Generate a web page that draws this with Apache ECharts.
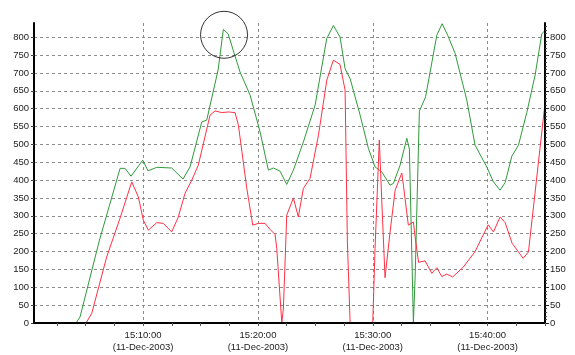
<!DOCTYPE html>
<html>
<head>
<meta charset="utf-8">
<script src="https://cdn.jsdelivr.net/npm/echarts@6/dist/echarts.min.js"></script>
<style>
    html, body { margin: 0; padding: 0; background: #fff; }
    #chart { width: 575px; height: 355px; }
</style>
</head>
<body>
<div id="chart"></div>
<script>
// time in minutes after 15:00:00
var greenTime = [4.16, 4.51, 6.2, 8.0, 8.43, 8.95, 9.97, 10.43, 11.19, 12.49, 13.48, 14.09, 15.11, 15.54, 16.53, 16.99, 17.40, 18.44, 19.32, 20.19, 20.91, 21.35, 21.93, 22.51, 23.09, 23.96, 24.98, 25.99, 26.57, 27.15, 27.59, 28.03, 28.90, 29.62, 30.20, 30.79, 31.51, 31.80, 32.38, 32.97, 33.19, 33.54, 33.69, 34.06, 34.60, 35.58, 36.04, 36.52, 37.17, 38.19, 38.91, 39.93, 40.51, 41.09, 41.53, 42.11, 42.69, 43.42, 44.14, 44.72, 45.0];
var greenValue = [0, 17, 232, 433, 433, 411, 456, 426, 436, 434, 403, 437, 563, 568, 708, 822, 810, 703, 638, 535, 428, 434, 425, 388, 428, 507, 610, 796, 833, 801, 712, 684, 582, 489, 437, 423, 386, 391, 442, 517, 487, 2, 129, 593, 633, 806, 838, 806, 755, 624, 498, 437, 395, 372, 393, 467, 498, 590, 694, 810, 819];

var redTime = [5.03, 5.53, 6.83, 7.99, 9.01, 9.59, 10.02, 10.46, 11.19, 11.76, 12.49, 13.07, 13.65, 14.24, 14.81, 15.83, 16.27, 16.85, 17.43, 18.01, 18.30, 19.03, 19.55, 20.04, 20.62, 21.06, 21.49, 21.64, 22.08, 22.22, 22.51, 23.09, 23.52, 23.96, 24.54, 25.27, 26.00, 26.57, 27.15, 27.59, 27.79, 28.03, 30.00, 30.20, 30.57, 30.79, 31.07, 31.51, 31.95, 32.53, 32.67, 33.10, 33.54, 33.69, 33.99, 34.56, 35.14, 35.58, 36.01, 36.45, 36.96, 37.90, 38.91, 40.05, 40.51, 41.09, 41.53, 42.14, 43.10, 43.56, 45.0];
var redValue = [0, 27, 185, 293, 395, 353, 288, 260, 281, 279, 255, 297, 363, 400, 442, 582, 594, 589, 591, 589, 554, 377, 274, 279, 279, 262, 248, 209, 0, 42, 302, 350, 297, 377, 405, 526, 680, 736, 724, 652, 227, 0, 0, 209, 512, 339, 127, 255, 372, 420, 386, 274, 283, 241, 170, 174, 139, 155, 130, 137, 129, 157, 200, 275, 255, 297, 281, 223, 181, 199, 615];

// ring drawn round the first peak
var ringPoint = [17.05, 807];

var yTicks = [0, 50, 100, 150, 200, 250, 300, 350, 400, 450, 500, 550, 600, 650, 700, 750, 800];
var xLabelMinutes = [10, 20, 30, 40];
var xMinorMinutes = [2.5, 5, 7.5, 10, 12.5, 15, 17.5, 20, 22.5, 25, 27.5, 30, 32.5, 35, 37.5, 40, 42.5, 45];
var dateText = '(11-Dec-2003)';

function pairs(xs, ys) {
    var out = [];
    for (var i = 0; i < xs.length; i++) out.push([xs[i], ys[i]]);
    return out;
}

var labelFont = { fontFamily: 'Liberation Sans, Arial, sans-serif', fontSize: 9.5, color: '#222' };
var dashed = { color: '#8c8c8c', type: [3, 3], width: 1 };

var myChart = echarts.init(document.getElementById('chart'));
myChart.setOption({
    animation: false,
    backgroundColor: '#fff',
    grid: { left: 34, right: 30, top: 23, bottom: 32 },
    xAxis: [
        {
            type: 'value',
            min: 0.5,
            max: 45,
            z: 10,
            axisLine: { show: true, onZero: false, lineStyle: { color: '#000', width: 2 } },
            axisTick: { show: true, customValues: xMinorMinutes, length: 3, lineStyle: { color: '#555' } },
            axisLabel: Object.assign({
                customValues: xLabelMinutes,
                margin: 6,
                lineHeight: 12.5,
                align: 'center',
                formatter: function (v) {
                    return '15:' + (v < 10 ? '0' + v : v) + ':00\n' + dateText;
                }
            }, labelFont),
            splitLine: { show: false }
        },
        {
            // only for the vertical dashed lines
            type: 'value',
            min: 0.5,
            max: 45,
            position: 'bottom',
            axisLine: { show: false },
            axisTick: { show: false, customValues: xLabelMinutes },
            axisLabel: { show: false },
            splitLine: { show: true, lineStyle: dashed }
        }
    ],
    yAxis: [
        {
            type: 'value',
            min: 0,
            max: 840,
            interval: 50,
            position: 'left',
            axisLine: { show: true, lineStyle: { color: '#000', width: 2 } },
            axisTick: { show: true, customValues: yTicks, length: 3, lineStyle: { color: '#444' } },
            axisLabel: Object.assign({ customValues: yTicks, margin: 5 }, labelFont),
            splitLine: { show: true, lineStyle: dashed }
        },
        {
            type: 'value',
            min: 0,
            max: 840,
            interval: 50,
            position: 'right',
            z: 10,
            axisLine: { show: true, lineStyle: { color: '#000', width: 2 } },
            axisTick: { show: true, customValues: yTicks, length: 4, lineStyle: { color: '#222' } },
            minorTick: { show: true, splitNumber: 5, length: 2, lineStyle: { color: '#444' } },
            axisLabel: Object.assign({ customValues: yTicks, margin: 5 }, labelFont),
            splitLine: { show: false }
        }
    ],
    series: [
        {
            name: 'green',
            type: 'line',
            data: pairs(greenTime, greenValue),
            showSymbol: false,
            lineStyle: { color: '#2f9a3a', width: 1 },
            z: 3
        },
        {
            name: 'red',
            type: 'line',
            data: pairs(redTime, redValue),
            showSymbol: false,
            lineStyle: { color: '#ff3044', width: 1 },
            z: 4
        },
        {
            name: 'ring',
            type: 'scatter',
            data: [ringPoint],
            symbol: 'circle',
            symbolSize: 47,
            clip: false,
            silent: true,
            itemStyle: { color: 'rgba(0,0,0,0)', borderColor: '#000', borderWidth: 1 },
            z: 5
        }
    ]
});
</script>
</body>
</html>
